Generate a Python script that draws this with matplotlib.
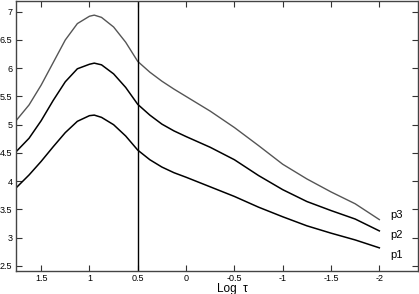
import matplotlib
matplotlib.use("Agg")
import matplotlib.pyplot as plt

log_tau = [1.76, 1.625, 1.5, 1.375, 1.25, 1.125, 1.0, 0.95, 0.875, 0.75, 0.625, 0.5,
           0.375, 0.25, 0.125, 0.0, -0.25, -0.5, -0.75, -1.0, -1.25, -1.5, -1.75, -2.0]
p1 = [3.88, 4.11, 4.35, 4.61, 4.86, 5.06, 5.16, 5.17, 5.13, 5.00, 4.80, 4.55,
      4.38, 4.25, 4.15, 4.07, 3.90, 3.73, 3.54, 3.37, 3.21, 3.08, 2.96, 2.82]
p2 = [4.52, 4.76, 5.07, 5.43, 5.76, 5.99, 6.07, 6.09, 6.06, 5.90, 5.66, 5.36,
      5.17, 5.01, 4.89, 4.79, 4.60, 4.38, 4.10, 3.85, 3.64, 3.48, 3.33, 3.12]
p3 = [5.07, 5.35, 5.70, 6.10, 6.50, 6.79, 6.92, 6.94, 6.90, 6.73, 6.46, 6.12,
      5.93, 5.77, 5.63, 5.50, 5.24, 4.95, 4.63, 4.30, 4.04, 3.81, 3.60, 3.32]
series_names = ["p1", "p2", "p3"]
x_ticks = [1.5, 1, 0.5, 0, -0.5, -1, -1.5, -2]
y_ticks = [2.5, 3, 3.5, 4, 4.5, 5, 5.5, 6, 6.5, 7]
marker_x = 0.5

plt.rcParams['font.family'] = ['Liberation Sans', 'DejaVu Sans']

fig = plt.figure(figsize=(4.19, 2.94), dpi=100)
W, H = 419, 294
ax = fig.add_axes([16 / W, (H - 271) / H, (418 - 16) / W, (271 - 1) / H])

ax.plot(log_tau, p1, color='black', lw=1.1)
ax.plot(log_tau, p2, color='black', lw=1.1)
ax.plot(log_tau, p3, color='#555555', lw=1.0)
ax.axvline(marker_x, color='black', lw=1.0)

ax.set_xlim(1.76, -2.4)
ax.set_ylim(2.41, 7.19)
ax.set_xticks(x_ticks)
ax.set_xticklabels([f"{v:g}" for v in x_ticks])
ax.set_yticks(y_ticks)
ax.set_yticklabels([f"{v:g}" for v in y_ticks])
ax.tick_params(direction='in', length=4, width=0.8, top=True, right=True,
               labelsize=6.5, pad=2.5, colors='#333333', labelcolor='black')
for s in ax.spines.values():
    s.set_color('#444444')
    s.set_linewidth(1.0)

for name, ypx in zip(series_names, [255, 235, 215]):
    ax.text(-2.11, 7.19 - (ypx - 1) / 56.49, name, fontsize=8, ha='left', va='center')

fig.text(232 / W, 1 - 289 / H, "Log  \u03c4", fontsize=8.5, ha='center', va='center')

fig.savefig("out.png", dpi=100)
